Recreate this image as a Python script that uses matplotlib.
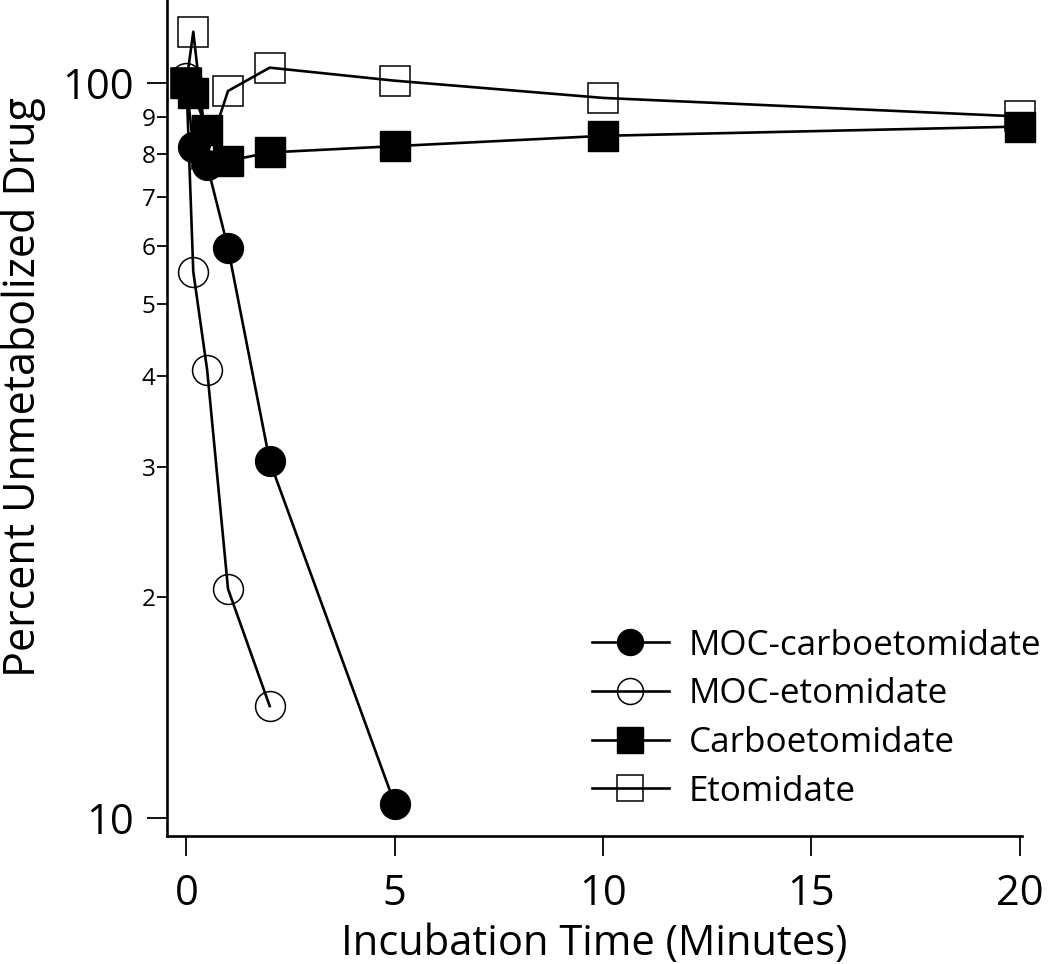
import numpy as np
import matplotlib
matplotlib.use('Agg')
import matplotlib.pyplot as plt
from matplotlib.ticker import FixedLocator, FixedFormatter

plt.rcParams['font.family'] = ['Open Sans', 'DejaVu Sans']

# time points (minutes)
t_moc_carbo = [0, 1/6, 0.5, 1, 2, 5]
moc_carbo = [100, 82.0, 77.4, 59.7, 30.6, 10.45]

t_moc_etom = [0, 1/6, 0.5, 1, 2]
moc_etom = [101.5, 55.4, 40.7, 20.5, 14.2]

t_carbo = [0, 1/6, 0.5, 1, 2, 5, 10, 20]
carbo = [100, 96.9, 86.4, 78.4, 80.5, 82.1, 84.8, 87.3]

t_etom = [0, 1/6, 0.5, 1, 2, 5, 10, 20]
etom = [100, 117.5, 80, 97.6, 105.0, 100.8, 95.5, 90.1]

labels = ['MOC-carboetomidate', 'MOC-etomidate', 'Carboetomidate', 'Etomidate']

major_ticks = [10, 100]
minor_ticks = [20, 30, 40, 50, 60, 70, 80, 90]
minor_labels = ['2', '3', '4', '5', '6', '7', '8', '9']

fig = plt.figure(figsize=(10.5, 9.64), dpi=100)
ax = fig.add_axes([0.1588, 0.1328, 0.9733 - 0.1588, 1 - 0.1328])

ms = 21.5
lw = 1.9
h_etom, = ax.plot(t_etom, etom, color='black', lw=lw, marker='s', ms=ms,
                  mfc='none', mec='black', mew=1.1, zorder=2, clip_on=False)
h_me, = ax.plot(t_moc_etom, moc_etom, color='black', lw=lw, marker='o', ms=ms,
                mfc='none', mec='black', mew=1.1, zorder=3, clip_on=False)
h_mc, = ax.plot(t_moc_carbo, moc_carbo, color='black', lw=lw, marker='o', ms=ms,
                mfc='black', mec='black', zorder=4, clip_on=False)
h_c, = ax.plot(t_carbo, carbo, color='black', lw=lw, marker='s', ms=ms,
               mfc='black', mec='black', zorder=5, clip_on=False)

ax.set_yscale('log')
ax.set_xlim(-0.47, 20.05)
ax.set_ylim(9.45, 129.8)

ax.yaxis.set_major_locator(FixedLocator(major_ticks))
ax.yaxis.set_major_formatter(FixedFormatter([str(v) for v in major_ticks]))
ax.yaxis.set_minor_locator(FixedLocator(minor_ticks))
ax.yaxis.set_minor_formatter(FixedFormatter(minor_labels))
ax.set_xticks([0, 5, 10, 15, 20])

ax.tick_params(axis='both', which='major', direction='out', length=14.5,
               width=1.3, labelsize=30, pad=9)
ax.tick_params(axis='y', which='minor', direction='out', length=7,
               width=1.3, labelsize=17.5, pad=1)
ax.tick_params(axis='x', pad=12)

for s in ['top', 'right']:
    ax.spines[s].set_visible(False)
for s in ['left', 'bottom']:
    ax.spines[s].set_linewidth(1.9)

ax.set_xlabel('Incubation Time (Minutes)', fontsize=30, labelpad=6)
ax.set_ylabel('Percent Unmetabolized Drug', fontsize=31)
ax.yaxis.set_label_coords(-0.141, 0.5365)

fig.legend([h_mc, h_me, h_c, h_etom], labels, loc='upper left',
           bbox_to_anchor=(0.5638, 0.3480), frameon=False, fontsize=25.2,
           markerscale=0.87, handlelength=2.2, handletextpad=0.56,
           labelspacing=0.42, borderpad=0, borderaxespad=0)

fig.savefig('out.png', dpi=100)
